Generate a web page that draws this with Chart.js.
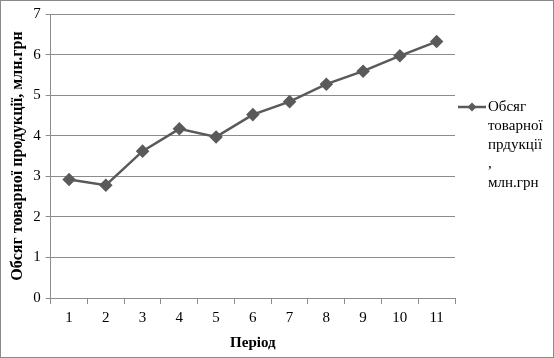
<!DOCTYPE html>
<html>
<head>
<meta charset="utf-8">
<script src="https://cdn.jsdelivr.net/npm/chart.js@4.4.1/dist/chart.umd.min.js"></script>
<style>
  html, body { margin: 0; padding: 0; background: #fff; }
  #wrap { width: 554px; height: 358px; position: relative; }
</style>
</head>
<body>
<div id="wrap"><canvas id="chart" width="554" height="358"></canvas></div>
<script>
const periods = ['1', '2', '3', '4', '5', '6', '7', '8', '9', '10', '11'];
const output = [2.92, 2.78, 3.62, 4.17, 3.97, 4.52, 4.84, 5.27, 5.59, 5.97, 6.32];
const legendLines = ['Обсяг', 'товарної', 'прдукції', ',', 'млн.грн'];
const yTitle = 'Обсяг товарної продукції, млн.грн';
const xTitle = 'Період';

const serif = '"Liberation Serif", "Times New Roman", serif';
const lineColor = '#5a5a5a';
const gridColor = '#8c8c8c';

// frame around the whole picture
const framePlugin = {
    id: 'frame',
    afterDraw(chart) {
        const ctx = chart.ctx;
        ctx.save();
        ctx.strokeStyle = '#8a8a8a';
        ctx.lineWidth = 1;
        ctx.strokeRect(0.5, 0.5, chart.width - 1, chart.height - 1);
        ctx.restore();
    }
};

// legend at the right, text wrapped over several lines like the original
const sideLegend = {
    id: 'sideLegend',
    afterDraw(chart) {
        const ctx = chart.ctx;
        const x0 = 458, y0 = 107;
        ctx.save();
        ctx.strokeStyle = lineColor;
        ctx.lineWidth = 2.5;
        ctx.beginPath();
        ctx.moveTo(x0, y0);
        ctx.lineTo(x0 + 28, y0);
        ctx.stroke();
        ctx.fillStyle = lineColor;
        ctx.beginPath();
        ctx.moveTo(x0 + 14, y0 - 4.5);
        ctx.lineTo(x0 + 18.5, y0);
        ctx.lineTo(x0 + 14, y0 + 4.5);
        ctx.lineTo(x0 + 9.5, y0);
        ctx.closePath();
        ctx.fill();
        ctx.fillStyle = '#000';
        ctx.font = '15px ' + serif;
        ctx.textBaseline = 'middle';
        legendLines.forEach((t, i) => {
            ctx.fillText(t, x0 + 30, y0 + i * 19);
        });
        ctx.restore();
    }
};

new Chart(document.getElementById('chart'), {
    type: 'line',
    data: {
        labels: periods,
        datasets: [{
            label: legendLines.join(' '),
            data: output,
            borderColor: lineColor,
            backgroundColor: lineColor,
            borderWidth: 2.5,
            pointStyle: 'rectRot',
            pointRadius: 5,
            pointHoverRadius: 5,
            tension: 0
        }]
    },
    options: {
        responsive: false,
        animation: false,
        layout: { padding: { left: 8, right: 99, top: 11, bottom: 6 } },
        plugins: {
            legend: { display: false },
            tooltip: { enabled: false }
        },
        scales: {
            x: {
                offset: true,
                grid: { offset: true, drawOnChartArea: false, drawTicks: true, tickLength: 6, color: gridColor },
                border: { color: gridColor },
                ticks: { color: '#000', font: { family: serif, size: 15 }, padding: 5 },
                title: { display: true, text: xTitle, color: '#000', font: { family: serif, size: 15, weight: 'bold' }, padding: { top: 2, bottom: 0 } }
            },
            y: {
                min: 0,
                max: 7,
                grid: { color: gridColor, tickLength: 5 },
                border: { color: gridColor },
                ticks: { stepSize: 1, color: '#000', font: { family: serif, size: 15 }, padding: 5 },
                title: { display: true, text: yTitle, color: '#000', font: { family: serif, size: 16, weight: 'bold' }, padding: { top: 0, bottom: 1 } }
            }
        }
    },
    plugins: [framePlugin, sideLegend]
});
</script>
</body>
</html>
